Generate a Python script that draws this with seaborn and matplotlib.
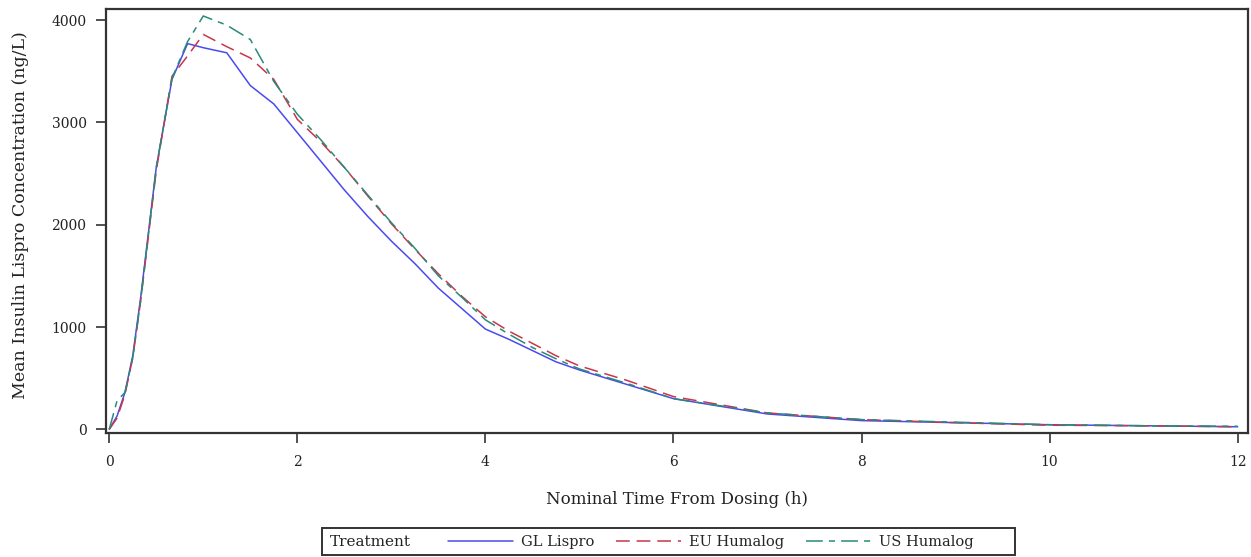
import pandas as pd
import matplotlib
matplotlib.use("Agg")
import matplotlib.pyplot as plt
from matplotlib.patches import Rectangle
import seaborn as sns

# nominal sampling times (h)
times = [0, 0.083, 0.167, 0.25, 0.333, 0.5, 0.667, 0.833, 1.0, 1.25, 1.5, 1.75,
         2.0, 2.25, 2.5, 2.75, 3.0, 3.25, 3.5, 3.75, 4.0, 4.25, 4.5, 4.75,
         5.0, 5.5, 6.0, 7.0, 8.0, 9.0, 10.0, 11.0, 12.0]

# mean concentrations (ng/L)
gl_lispro = [0, 130, 360, 720, 1280, 2560, 3420, 3770, 3730, 3680, 3360, 3180,
             2900, 2620, 2340, 2080, 1840, 1620, 1380, 1180, 980, 880, 770, 660,
             580, 440, 300, 150, 85, 65, 45, 35, 25]
eu_humalog = [0, 110, 340, 700, 1250, 2530, 3450, 3650, 3860, 3740, 3630, 3420,
              3030, 2810, 2560, 2280, 2010, 1760, 1520, 1300, 1100, 960, 840, 720,
              620, 480, 320, 160, 95, 65, 40, 35, 25]
us_humalog = [0, 280, 360, 700, 1250, 2560, 3430, 3790, 4040, 3950, 3810, 3400,
              3080, 2830, 2560, 2290, 2020, 1770, 1500, 1290, 1070, 930, 800, 690,
              590, 450, 300, 160, 95, 70, 45, 35, 30]

treatments = ["GL Lispro", "EU Humalog", "US Humalog"]
colors = ["#4a4af0", "#c8364a", "#2a8a78"]

df = pd.DataFrame({
    "time": times * 3,
    "conc": gl_lispro + eu_humalog + us_humalog,
    "Treatment": [t for t in treatments for _ in times],
})

sns.set_theme(style="ticks")
plt.rcParams["font.family"] = ["DejaVu Serif"]

fig = plt.figure(figsize=(12.51, 5.57), dpi=100)
ax = fig.add_axes([0.0847, 0.2226, 0.9129, 0.7612])

sns.lineplot(data=df, x="time", y="conc", hue="Treatment", style="Treatment",
             palette=dict(zip(treatments, colors)),
             dashes={"GL Lispro": "", "EU Humalog": (9, 4.5), "US Humalog": (11, 4, 4, 4)},
             linewidth=1.1, legend=False, ax=ax)

ax.set_xlim(-0.035, 12.11)
ax.set_ylim(-36, 4108)
ax.set_xticks(range(0, 13, 2))
ax.set_yticks(range(0, 4001, 1000))
ax.tick_params(axis="both", direction="out", length=7, width=1.2, color="#333333",
               labelsize=10, labelcolor="#222222")
ax.tick_params(axis="x", pad=9)
ax.tick_params(axis="y", pad=7)
for s in ax.spines.values():
    s.set_visible(True)
    s.set_color("#333333")
    s.set_linewidth(1.6)
ax.set_xlabel("Nominal Time From Dosing (h)", fontsize=12, labelpad=16, color="#222222")
ax.set_ylabel("Mean Insulin Lispro Concentration (ng/L)", fontsize=12.5, color="#222222")
ax.yaxis.set_label_coords(-0.067, 0.515)

# legend strip at the bottom with inline title
lines = ax.get_lines()[:3]
fig.legend(lines, treatments, loc="center left", bbox_to_anchor=(0.352, 0.0275),
           frameon=False, ncol=3, handlelength=4.45, handletextpad=0.6,
           columnspacing=1.45, borderpad=0, fontsize=10.5)
fig.text(0.264, 0.0275, "Treatment", fontsize=11, va="center", ha="left", color="#222222")
fig.patches.append(Rectangle((0.2574, 0.004), 0.554, 0.0485, transform=fig.transFigure,
                             fill=False, edgecolor="#333333", linewidth=1.4))

fig.savefig("out.png", dpi=100)
